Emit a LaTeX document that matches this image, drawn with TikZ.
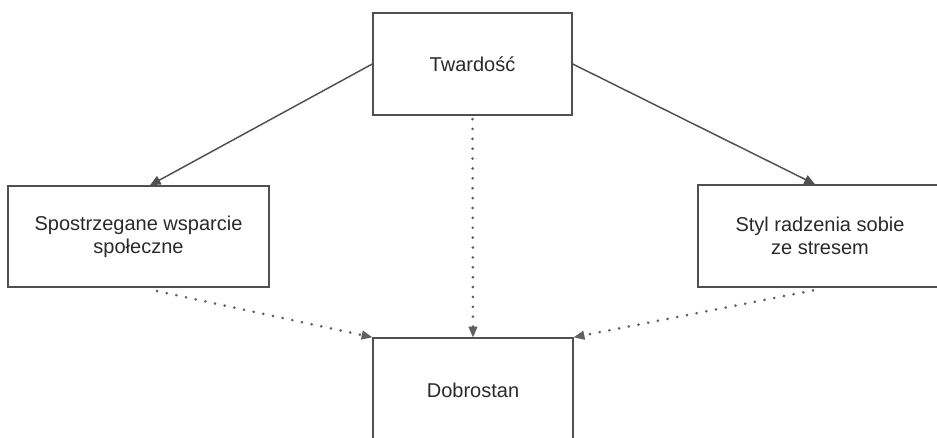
\documentclass[tikz,border=0pt]{standalone}
\usepackage{fontspec}
\setmainfont{Liberation Sans}
\usetikzlibrary{arrows.meta}
\definecolor{linegray}{HTML}{505050}
\definecolor{dotgray}{HTML}{606060}
\definecolor{txtgray}{HTML}{2A2A2A}
\tikzset{
  box/.style={draw=linegray, line width=1.1pt, fill=white, inner sep=0pt, align=center,
    text=txtgray, font=\fontsize{15pt}{17.5pt}\selectfont},
  solidarrow/.style={draw=linegray, line width=1.1pt, -{Triangle[length=8pt,width=7pt]}},
  dotarrow/.style={draw=dotgray, line width=2.2pt, line cap=round,
    dash pattern=on 0.01pt off 7.4pt, -{Triangle[length=8pt,width=7pt,line width=0pt]}},
}
\begin{document}
\begin{tikzpicture}[x=0.75pt,y=-0.75pt]
\clip (0,0) rectangle (937,437);
\fill[white] (0,0) rectangle (937,437);
\node[box, minimum width=149.25pt, minimum height=76.5pt] (T) at (472.5,64) {Twardość};
\node[box, minimum width=195.75pt, minimum height=75.75pt] (L) at (138.5,236.5) {Spostrzegane wsparcie\\społeczne};
\node[box, minimum width=183pt, minimum height=76.5pt] (R) at (820,236) {Styl radzenia sobie\\ze stresem};
\node[box, minimum width=150pt, minimum height=78pt] (D) at (473,390) {Dobrostan};
\draw[solidarrow] (T.west) -- ([xshift=8.6pt]L.north);
\draw[solidarrow] (T.east) -- ([xshift=-3.75pt]R.north);
\draw[dotarrow] ([yshift=-2.5pt]T.south) -- (D.north);
\draw[dotarrow] ([xshift=13.9pt,yshift=-2.5pt]L.south) -- (D.north west);
\draw[dotarrow] ([xshift=-5.25pt,yshift=-2pt]R.south) -- (D.north east);
\end{tikzpicture}
\end{document}
